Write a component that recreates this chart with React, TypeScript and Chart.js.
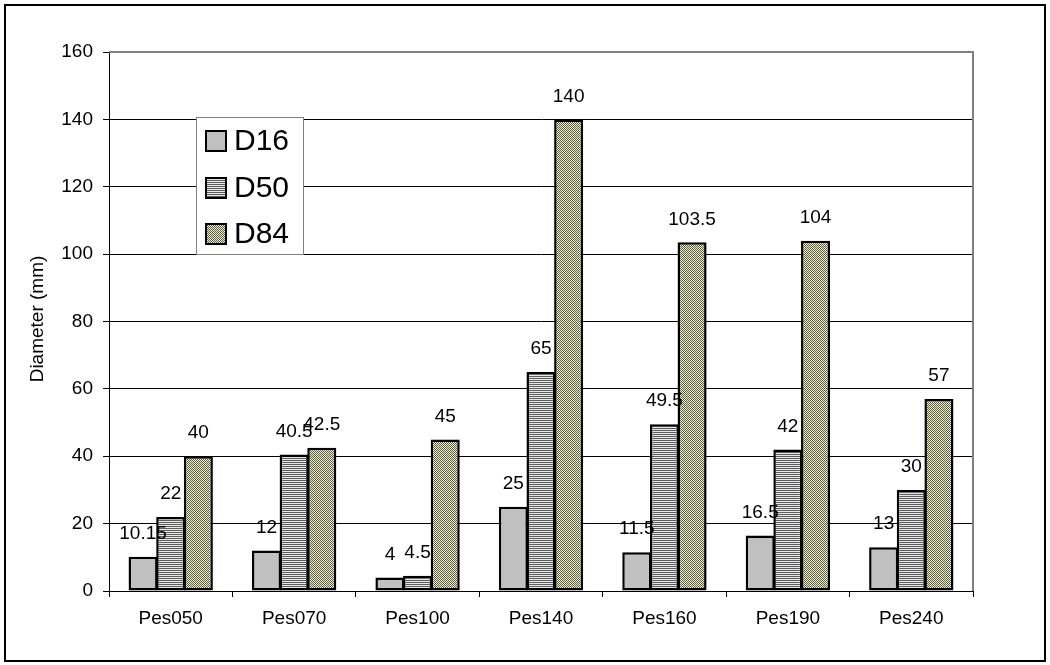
import React, { useEffect, useRef } from "react";
import { Chart, registerables } from "chart.js";

Chart.register(...registerables);

const categories = ["Pes050", "Pes070", "Pes100", "Pes140", "Pes160", "Pes190", "Pes240"];
const d16 = [10.15, 12, 4, 25, 11.5, 16.5, 13];
const d50 = [22, 40.5, 4.5, 65, 49.5, 42, 30];
const d84 = [40, 42.5, 45, 140, 103.5, 104, 57];
const seriesNames = ["D16", "D50", "D84"];
const yTitle = "Diameter (mm)";

const FONT = "'Liberation Sans', Arial, sans-serif";

function makePattern(kind: string): CanvasPattern | string {
  const c = document.createElement("canvas");
  c.width = 2;
  c.height = 2;
  const g = c.getContext("2d");
  if (!g) return "#c0c0c0";
  if (kind === "stripes") {
    g.fillStyle = "#e6e6e6";
    g.fillRect(0, 0, 2, 2);
    g.fillStyle = "#5e5e5e";
    g.fillRect(0, 0, 2, 1);
  } else {
    g.fillStyle = "#eeeed0";
    g.fillRect(0, 0, 2, 2);
    g.fillStyle = "#5e5e44";
    g.fillRect(0, 0, 1, 1);
    g.fillRect(1, 1, 1, 1);
  }
  const p = g.createPattern(c, "repeat");
  return p || "#c0c0c0";
}

export default function App() {
  const ref = useRef<HTMLCanvasElement | null>(null);

  useEffect(() => {
    const canvas = ref.current;
    if (!canvas) return;
    const fills: (CanvasPattern | string)[] = ["#c0c0c0", makePattern("stripes"), makePattern("dots")];
    const values = [d16, d50, d84];

    const framePlugin = {
      id: "frame",
      beforeDraw(chart: any) {
        const ctx = chart.ctx;
        ctx.save();
        ctx.fillStyle = "#ffffff";
        ctx.fillRect(0, 0, chart.width, chart.height);
        ctx.restore();
      },
      afterDraw(chart: any) {
        const ctx = chart.ctx;
        const a = chart.chartArea;
        ctx.save();
        ctx.strokeStyle = "#808080";
        ctx.lineWidth = 2;
        ctx.beginPath();
        ctx.moveTo(a.left, a.top);
        ctx.lineTo(a.right, a.top);
        ctx.lineTo(a.right, a.bottom);
        ctx.stroke();
        ctx.strokeStyle = "#000000";
        ctx.lineWidth = 2;
        ctx.strokeRect(5, 5, 1040, 656);
        ctx.fillStyle = "#000";
        ctx.font = "19px " + FONT;
        ctx.textAlign = "center";
        ctx.textBaseline = "middle";
        ctx.translate(38, 319);
        ctx.rotate(-Math.PI / 2);
        ctx.fillText(yTitle, 0, 0);
        ctx.restore();

        ctx.save();
        ctx.fillStyle = "#ffffff";
        ctx.fillRect(196, 117, 107, 137);
        ctx.strokeStyle = "#808080";
        ctx.lineWidth = 1;
        ctx.strokeRect(196.5, 117.5, 107, 137);
        const rows = [141, 188, 234];
        for (let i = 0; i < 3; i++) {
          const cy = rows[i];
          ctx.fillStyle = fills[i] as any;
          ctx.fillRect(206, cy - 10, 20, 20);
          ctx.strokeStyle = "#000";
          ctx.lineWidth = 2;
          ctx.strokeRect(206, cy - 10, 20, 20);
          ctx.fillStyle = "#000";
          ctx.font = "30px " + FONT;
          ctx.textAlign = "left";
          ctx.textBaseline = "middle";
          ctx.fillText(seriesNames[i], 234, cy + 1);
        }
        ctx.restore();
      },
      afterDatasetsDraw(chart: any) {
        const ctx = chart.ctx;
        ctx.save();
        ctx.fillStyle = "#000";
        ctx.font = "19px " + FONT;
        ctx.textAlign = "center";
        ctx.textBaseline = "middle";
        chart.data.datasets.forEach((ds: any, di: number) => {
          const meta = chart.getDatasetMeta(di);
          meta.data.forEach((el: any, i: number) => {
            ctx.fillText(String(ds.data[i]), el.x, el.y - 23);
          });
        });
        ctx.restore();
      },
    };

    const chart = new Chart(canvas, {
      type: "bar",
      data: {
        labels: categories,
        datasets: seriesNames.map((name, i) => ({
          label: name,
          data: values[i],
          backgroundColor: fills[i] as any,
          borderColor: "#000000",
          borderWidth: 2.5,
          borderSkipped: false,
          categoryPercentage: 0.672,
          barPercentage: 1.05,
        })),
      },
      options: {
        responsive: false,
        animation: false,
        devicePixelRatio: 1,
        layout: { padding: { left: 0, top: 52, right: 77, bottom: 0 } },
        plugins: {
          legend: { display: false },
          tooltip: { enabled: false },
        },
        scales: {
          x: {
            offset: true,
            grid: {
              offset: true,
              drawOnChartArea: false,
              drawTicks: true,
              tickLength: 6,
              color: "#000",
            },
            border: { display: true, color: "#000", width: 1 },
            ticks: {
              color: "#000",
              font: { family: FONT, size: 19 },
              padding: 10,
              maxRotation: 0,
            },
            afterFit: (s: any) => {
              s.height = 74;
            },
          },
          y: {
            min: 0,
            max: 160,
            ticks: {
              stepSize: 20,
              color: "#000",
              font: { family: FONT, size: 19 },
              padding: 10,
            },
            grid: {
              color: "#000",
              lineWidth: 1,
              tickLength: 6,
              drawTicks: true,
            },
            border: { display: true, color: "#000", width: 1 },
            afterFit: (s: any) => {
              s.width = 109;
            },
          },
        },
      },
      plugins: [framePlugin],
    });
    return () => chart.destroy();
  }, []);

  return (
    <div style={{ position: "absolute", left: 0, top: 0, width: 1050, height: 665 }}>
      <canvas ref={ref} width={1050} height={665} />
    </div>
  );
}
